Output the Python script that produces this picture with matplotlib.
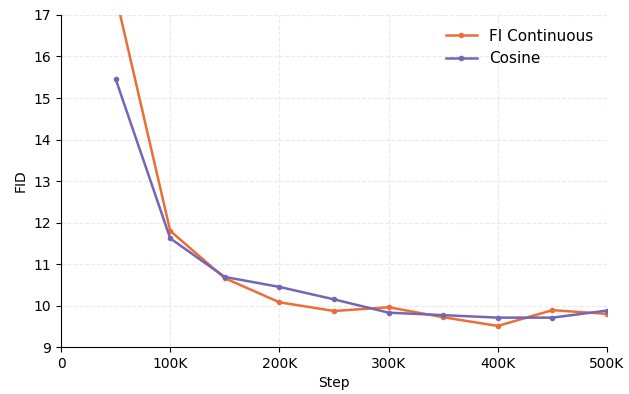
import matplotlib
matplotlib.use("Agg")
import matplotlib.pyplot as plt
from matplotlib.ticker import FuncFormatter

# Training steps (in K) and FID values
steps = [50, 100, 150, 200, 250, 300, 350, 400, 450, 500]
fi_continuous = [17.48, 11.8, 10.66, 10.08, 9.87, 9.96, 9.72, 9.51, 9.89, 9.80]
cosine = [15.46, 11.62, 10.69, 10.45, 10.15, 9.83, 9.77, 9.71, 9.71, 9.88]

fig = plt.figure(figsize=(6.29, 3.94), dpi=100)
ax = fig.add_axes([0.097, 0.119, 0.868, 0.843])

ax.plot([s * 1000 for s in steps], fi_continuous, color="#EB6E38", lw=1.8,
        marker="o", ms=3, label="FI Continuous")
ax.plot([s * 1000 for s in steps], cosine, color="#7565B2", lw=1.8,
        marker="o", ms=3, label="Cosine")

ax.set_xlim(0, 500000)
ax.set_ylim(9, 17)
ax.xaxis.set_major_formatter(FuncFormatter(lambda v, p: "0" if v == 0 else f"{int(v/1000)}K"))
ax.set_xlabel("Step")
ax.set_ylabel("FID")
ax.grid(True, linestyle="--", color="#dddddd", alpha=0.6, lw=0.8)
ax.spines["top"].set_visible(False)
ax.spines["right"].set_visible(False)
ax.legend(frameon=False, loc="upper right", fontsize=11)

fig.savefig("out.png", dpi=100)
